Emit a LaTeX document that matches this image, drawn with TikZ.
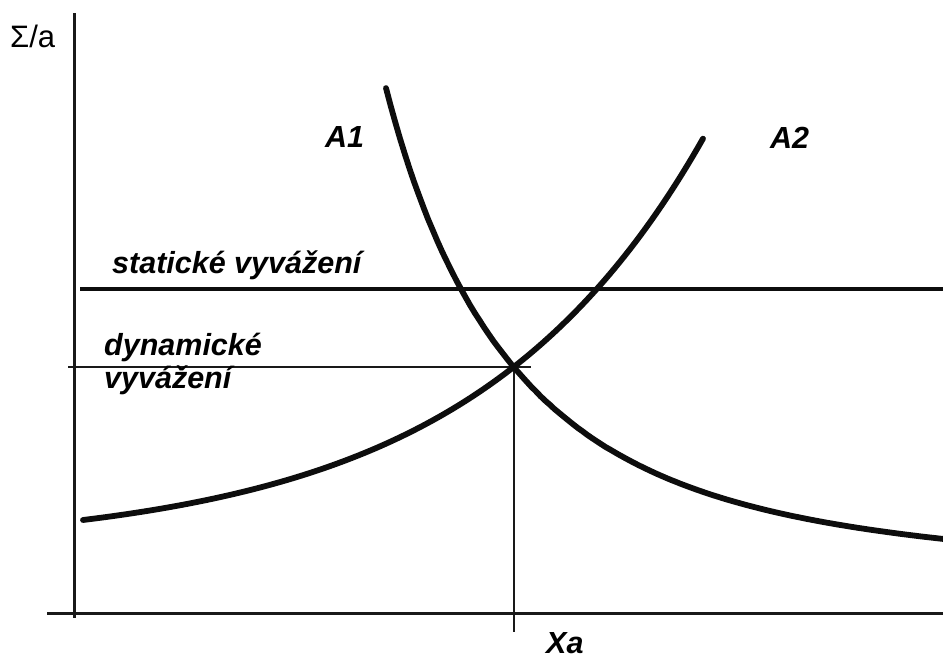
\documentclass[tikz,border=0pt]{standalone}
\usepackage{fontspec}
\setmainfont{Liberation Sans}
\usetikzlibrary{positioning}
\tikzset{
  axis/.style={line width=3pt,color=black!90},
  curve/.style={line width=5.8pt,color=black!95,line cap=round},
  level/.style={line width=4.8pt,color=black!95},
  thinline/.style={line width=2.6pt,color=black!90},
  lbl/.style={anchor=base west,inner sep=0pt,font=\fontsize{30.5}{35}\selectfont\bfseries\itshape},
}
\begin{document}
\begin{tikzpicture}[x=1pt,y=-1pt]
\useasboundingbox (0,0) rectangle (943,659);
% axes
\coordinate (ytop) at (74,13);
\coordinate (ybot) at (74,618);
\coordinate (xleft) at (47,613);
\coordinate (xright) at (943,613);
\draw[axis] (ytop) -- (ybot);
\draw[axis] (xleft) -- (xright);
\node[anchor=base west,inner sep=0pt,font=\fontsize{31}{36}\selectfont] (ylab) at (10,47) {Σ/a};
% levels
\coordinate (sleft) at (80,289);
\coordinate (sright) at (943,289);
\draw[level] (sleft) -- (sright);
\coordinate (eq) at (514,367);
\coordinate (dleft) at (68,367);
\coordinate (dright) at (531,367);
\coordinate (xtick) at (514,632);
\draw[thinline] (dleft) -- (dright);
\draw[thinline] (eq) -- (xtick);
% curves
\draw[curve] plot[domain=386:943,samples=120,variable=\x]
  (\x,{613-0.5*((-20+666.4/((\x-263.5)*0.01))+(73.5+8148*exp(-0.0075*\x)))+0.012*(\x-514)});
\draw[curve] plot[domain=83:703,samples=120,variable=\x]
  (\x,{613-(93+19.9*(exp(0.0043*\x)-1.429))});
% labels
\node[lbl] (a1) at (325,147) {A1};
\node[lbl] (a2) at (770,148) {A2};
\node[lbl] (stat) at (112,273) {statické vyvážení};
\node[lbl] (dyn) at (104,355) {dynamické};
\node[lbl] (dyn2) at (104,388) {vyvážení};
\node[lbl] (xa) at (546,653) {Xa};
\end{tikzpicture}
\end{document}
